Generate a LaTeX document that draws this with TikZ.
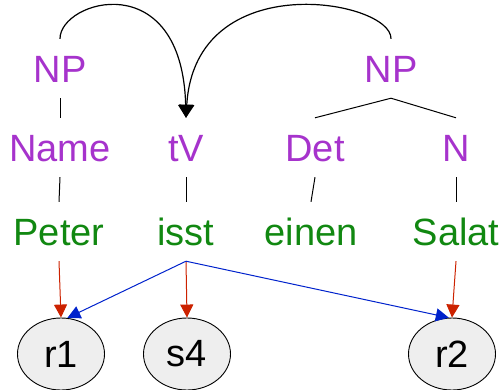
\documentclass[tikz,border=0pt]{standalone}
\usepackage{fontspec}
\setmainfont{Liberation Sans}
\usetikzlibrary{arrows.meta,shapes.geometric}
\definecolor{cat}{RGB}{166,51,204}
\definecolor{word}{RGB}{17,136,17}
\definecolor{redarr}{RGB}{204,34,0}
\definecolor{bluearr}{RGB}{0,34,204}
\definecolor{ellfill}{RGB}{238,238,238}
\begin{document}
\begin{tikzpicture}[x=1pt,y=-1pt,
  lbl/.style={font=\fontsize{38}{40}\selectfont, anchor=base, inner xsep=0pt, inner ysep=0pt, text height=43pt, text depth=16pt},
  catlbl/.style={lbl, text=cat},
  wordlbl/.style={lbl, text=word},
  refell/.style={draw=black, fill=ellfill, ellipse, minimum width=87pt, minimum height=72pt, inner sep=0pt, line width=0.9pt, font=\fontsize{38}{40}\selectfont},
  treeline/.style={draw=black, line width=1pt},
  redlink/.style={draw=redarr, line width=1pt, -{Triangle[length=13pt,width=13pt]}},
  bluelink/.style={draw=bluearr, line width=1pt, -{Triangle[length=13pt,width=13pt]}},
  moveline/.style={draw=black, line width=1.2pt, -{Triangle[length=13pt,width=15pt]}}
]
\useasboundingbox (0,0) rectangle (503,389);
% categories
\node[catlbl] (np1) at (60,82) {NP};
\node[catlbl] (np2) at (391,82) {NP};
\node[catlbl] (name) at (60,161) {Name};
\node[catlbl] (tv) at (186,161) {tV};
\node[catlbl] (det) at (315,161) {Det};
\node[catlbl] (n) at (456,161) {N};
% words
\node[wordlbl] (peter) at (59,245) {Peter};
\node[wordlbl] (isst) at (186,245) {isst};
\node[wordlbl] (einen) at (311,245) {einen};
\node[wordlbl] (salat) at (456,245) {Salat};
% referents
\node[refell] (r1) at (61,354) {r1};
\node[refell] (s4) at (187,354) {s4};
\node[refell] (r2) at (452,354) {r2};
% tree
\draw[treeline] (np1.south) -- (name.north);
\draw[treeline] (np2.south) -- (det.north);
\draw[treeline] (np2.south) -- (n.north);
\draw[treeline] (name.south) -- (peter.north);
\draw[treeline] (tv.south) -- (isst.north);
\draw[treeline] (det.south) -- (einen.north);
\draw[treeline] (n.south) -- (salat.north);
% movement arcs
\draw[moveline] (np1.north) .. controls (60,0) and (182,-35) .. (tv.north);
\draw[moveline] (np2.north) .. controls (392,0) and (195,-35) .. (tv.north);
% reference links
\draw[redlink] (peter.south) -- (r1.north);
\draw[redlink] (isst.south) -- (s4.north);
\draw[redlink] (salat.south) -- (r2.north);
\draw[bluelink] (isst.south) -- (r1.80);
\draw[bluelink] (isst.south) -- (r2.95);
\end{tikzpicture}
\end{document}
